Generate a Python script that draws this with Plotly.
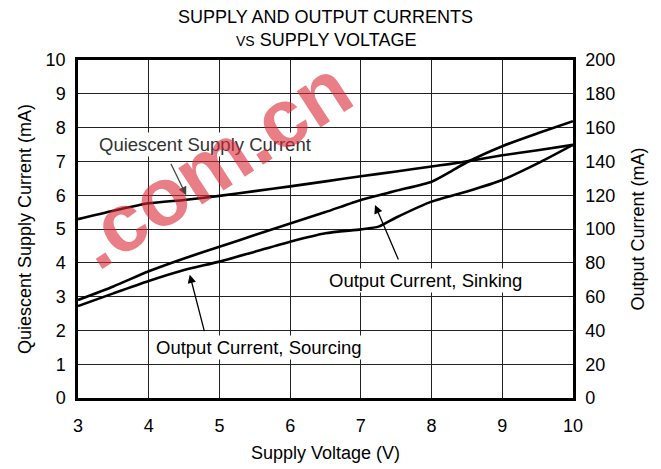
import plotly.graph_objects as go

# Supply voltage sample points (V)
voltage = [3, 3.5, 4, 4.5, 5, 5.5, 6, 6.5, 7, 7.5, 8, 8.25, 8.5, 9, 9.5, 10]
# Quiescent supply current (mA), left axis
quiescent_ma = [5.29, 5.54, 5.76, 5.86, 5.98, 6.12, 6.26, 6.41, 6.56, 6.70, 6.85, 6.92, 7.00, 7.18, 7.33, 7.49]
# Output current, sinking (mA), right axis
sinking_ma = [58, 66, 75, 82.6, 89.5, 96.4, 103.3, 110, 117.2, 122.6, 128, 133.5, 139.5, 149, 156.6, 163.8]
# Output current, sourcing (mA), right axis
sourcing_v = [3, 3.5, 4, 4.5, 5, 5.5, 6, 6.5, 7, 7.25, 7.5, 8, 8.5, 9, 9.5, 10]
sourcing_ma = [54.4, 61.9, 69.2, 75.7, 80.7, 86.6, 92.5, 97.5, 99.8, 101.4, 106.8, 116.2, 122.2, 129, 138.8, 149.8]

x_ticks = [3, 4, 5, 6, 7, 8, 9, 10]
left_ticks = list(range(0, 11))
right_ticks = list(range(0, 201, 20))

FONT = "Liberation Sans, Arial, Helvetica, sans-serif"
LINE = dict(color="black", width=2.6, shape="spline", smoothing=0.6)

fig = go.Figure()
fig.add_trace(go.Scatter(x=voltage, y=quiescent_ma, mode="lines", line=LINE,
                         yaxis="y", name="Quiescent Supply Current"))
fig.add_trace(go.Scatter(x=voltage, y=sinking_ma, mode="lines", line=LINE,
                         yaxis="y2", name="Output Current, Sinking"))
fig.add_trace(go.Scatter(x=sourcing_v, y=sourcing_ma, mode="lines", line=LINE,
                         yaxis="y2", name="Output Current, Sourcing"))

axis_common = dict(showline=True, linecolor="black", linewidth=2.5,
                   gridcolor="#222", gridwidth=1, ticks="", zeroline=False,
                   automargin=False,
                   tickfont=dict(family=FONT, size=18, color="black"))

fig.update_layout(
    width=661, height=469,
    margin=dict(l=78, r=88, t=60, b=71),
    paper_bgcolor="white", plot_bgcolor="white",
    showlegend=False,
    font=dict(family=FONT, color="black"),
    xaxis=dict(range=[3, 10], tickvals=x_ticks, showgrid=True, mirror=True,
               title=dict(text="Supply Voltage (V)", font=dict(size=18), standoff=12),
               ticklabelstandoff=10, **axis_common),
    yaxis=dict(range=[0, 10], tickvals=left_ticks, showgrid=True, mirror=False,
               title=dict(text="Quiescent Supply Current (mA)", font=dict(size=18), standoff=10),
               ticklabelstandoff=6, **axis_common),
    yaxis2=dict(range=[0, 200], tickvals=right_ticks, overlaying="y", side="right",
                showgrid=False,
                title=dict(text="Output Current (mA)", font=dict(size=18), standoff=18),
                ticklabelstandoff=6, **axis_common),
)

annotations = [
    # Title, two lines
    dict(text="SUPPLY AND OUTPUT CURRENTS", xref="paper", yref="paper", x=0.5, y=1.127,
         yanchor="middle", showarrow=False, font=dict(size=18)),
    dict(text="<span style='font-size:14px'>VS</span> SUPPLY VOLTAGE", xref="paper", yref="paper",
         x=0.5, y=1.059, yanchor="middle", showarrow=False, font=dict(size=18)),
    # Curve labels
    dict(text="Quiescent Supply Current", x=4.80, y=7.49, xref="x", yref="y",
         showarrow=False, bgcolor="white", font=dict(size=18.5, color="#333")),
    dict(text="Output Current, Sinking", x=7.92, y=3.49, xref="x", yref="y",
         showarrow=False, bgcolor="white", font=dict(size=18.5)),
    dict(text="Output Current, Sourcing", x=5.56, y=1.48, xref="x", yref="y",
         showarrow=False, bgcolor="white", font=dict(size=18.5)),
    # Pointer arrows
    dict(text="", x=4.53, y=6.0, xref="x", yref="y", ax=-16, ay=-33, showarrow=True,
         arrowhead=2, arrowsize=1.3, arrowwidth=1.3, arrowcolor="#444"),
    dict(text="", x=7.2, y=5.71, xref="x", yref="y", ax=24, ay=56, showarrow=True,
         arrowhead=2, arrowsize=1.3, arrowwidth=1.3, arrowcolor="black"),
    dict(text="", x=4.58, y=3.65, xref="x", yref="y", ax=15, ay=58, showarrow=True,
         arrowhead=2, arrowsize=1.3, arrowwidth=1.3, arrowcolor="black"),
    # Site mark
    dict(text="<b>.com.cn</b>", x=4.9, y=6.95, xref="x", yref="y", showarrow=False,
         textangle=-33, font=dict(size=82, color="rgba(220,40,55,0.6)",
                                  family="Liberation Sans, Arial, sans-serif")),
]
fig.update_layout(annotations=annotations)

fig.write_html("out.html")
